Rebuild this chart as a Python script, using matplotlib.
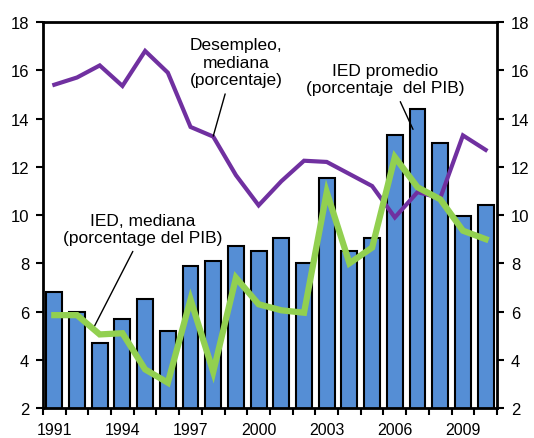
import numpy as np
import matplotlib as mpl
import matplotlib.pyplot as plt

mpl.rcParams['font.family'] = 'Liberation Sans'

# Series (1991-2010)
years = list(range(1991, 2011))
ied_promedio = [6.8, 6.0, 4.7, 5.7, 6.5, 5.2, 7.9, 8.1, 8.7, 8.5,
                9.05, 8.0, 11.55, 8.5, 9.05, 13.3, 14.4, 13.0, 9.95, 10.4]
desempleo = [15.4, 15.7, 16.2, 15.35, 16.8, 15.9, 13.65, 13.25, 11.65, 10.4,
             11.4, 12.25, 12.2, 11.7, 11.2, 9.9, 10.95, 10.7, 13.3, 12.7]
ied_mediana = [5.85, 5.85, 5.05, 5.1, 3.6, 3.05, 6.5, 3.5, 7.4, 6.3,
               6.05, 5.95, 10.95, 8.0, 8.65, 12.4, 11.15, 10.65, 9.35, 9.0]
year_labels = ['1991', '1994', '1997', '2000', '2003', '2006', '2009']

fig = plt.figure(figsize=(5.34, 4.39), dpi=100)
ax = fig.add_axes([0.0805, 0.0683, 0.8502, 0.8793])

x = np.arange(len(years))
ax.bar(x, ied_promedio, width=0.7, bottom=0, color='#558ED5',
       edgecolor='black', linewidth=1.5, zorder=2)
ax.plot(x, desempleo, color='#7030A0', lw=3, zorder=3, solid_joinstyle='miter')
ax.plot(x, ied_mediana, color='#92D050', lw=4.5, zorder=4, solid_joinstyle='miter')

ax.set_xlim(-0.5, len(years) - 0.5)
ax.set_ylim(2, 18)

# boundary ticks on the x axis, labels every third year
ax.set_xticks(np.arange(-0.5, len(years), 1.0))
ax.set_xticklabels([])
ax.set_xticks(np.arange(0, len(years), 3), minor=True)
ax.set_xticklabels(year_labels, minor=True)
ax.tick_params(axis='x', which='major', direction='out', length=5, width=1.5)
ax.tick_params(axis='x', which='minor', length=0, pad=10, labelsize=11.5)

ax.set_yticks(np.arange(2, 19, 2))
ax.tick_params(axis='y', direction='out', length=5, width=1.5, labelsize=12,
               right=True, labelright=True, pad=5)

for s in ax.spines.values():
    s.set_linewidth(2)

# annotations
def arrow(rx=0.5):
    return dict(arrowstyle='-', color='black', lw=1, shrinkA=3, shrinkB=0,
                relpos=(rx, 0.5))

ax.annotate('Desempleo,\nmediana\n(porcentaje)', xy=(7.0, 13.27), xytext=(8.0, 15.3),
            ha='center', va='bottom', fontsize=12.5, linespacing=1.2,
            arrowprops=arrow(0.48))
ax.annotate('IED promedio\n(porcentaje  del PIB)', xy=(15.8, 13.55), xytext=(14.57, 14.97),
            ha='center', va='bottom', fontsize=12.5, linespacing=1.2,
            arrowprops=arrow(0.53))
ax.annotate('IED, mediana\n(porcentage del PIB)', xy=(1.7, 5.27), xytext=(3.9, 8.76),
            ha='center', va='bottom', fontsize=12.5, linespacing=1.2,
            arrowprops=arrow(0.51))

fig.savefig('out.png', dpi=100)
